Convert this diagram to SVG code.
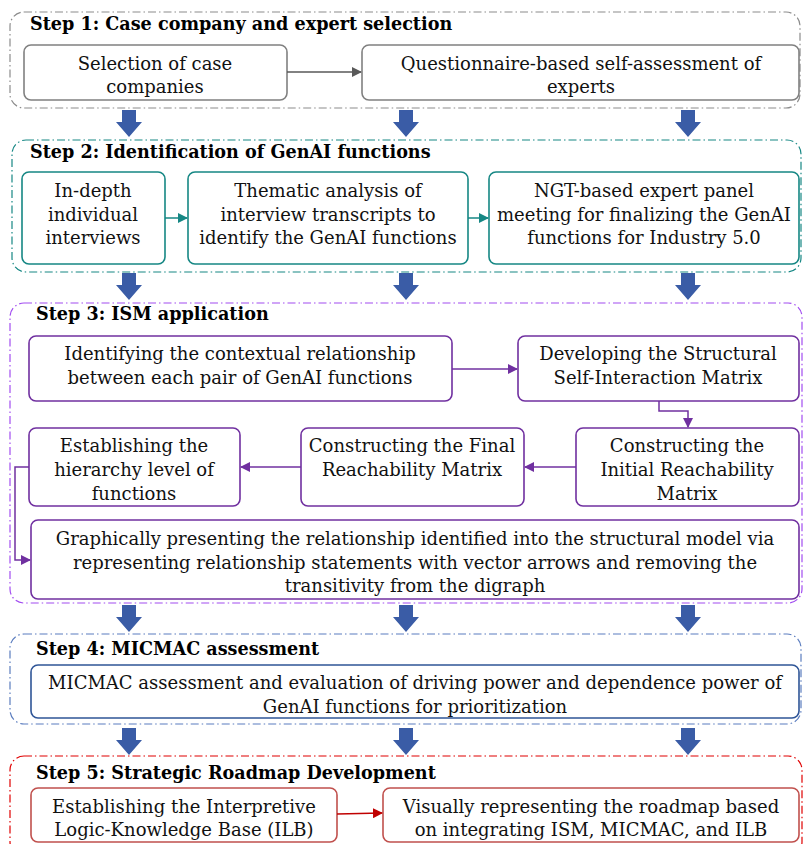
<svg xmlns="http://www.w3.org/2000/svg" width="804" height="844" viewBox="0 0 804 844">
<defs>
<style>
.t{font-family:"DejaVu Serif","Liberation Serif",serif;font-size:18px;fill:#111;text-anchor:middle}
.h{font-family:"DejaVu Serif","Liberation Serif",serif;font-size:17.6px;font-weight:bold;fill:#000}
.c{fill:none;stroke-width:1.2;stroke-dasharray:8 3 1.5 3}
.b{fill:#fff;stroke-width:1.6}
.ba{fill:#3A5CA6}
.ln{fill:none;stroke-width:1.5}
</style>
<marker id="mg" markerWidth="10" markerHeight="10" refX="9" refY="5" orient="auto" markerUnits="userSpaceOnUse"><path d="M0,0 L10,5 L0,10 z" fill="#595959"/></marker>
<marker id="mt" markerWidth="10" markerHeight="10" refX="9" refY="5" orient="auto" markerUnits="userSpaceOnUse"><path d="M0,0 L10,5 L0,10 z" fill="#168784"/></marker>
<marker id="mp" markerWidth="10" markerHeight="10" refX="9" refY="5" orient="auto" markerUnits="userSpaceOnUse"><path d="M0,0 L10,5 L0,10 z" fill="#7030A0"/></marker>
<marker id="mr" markerWidth="10" markerHeight="10" refX="9" refY="5" orient="auto" markerUnits="userSpaceOnUse"><path d="M0,0 L10,5 L0,10 z" fill="#C00000"/></marker>
<path id="blk" d="M-7,0 H7 V12 H13 L0,27 L-13,12 H-7 Z"/>
</defs>
<rect width="804" height="844" fill="#fff"/>

<!-- Step containers -->
<g id="step1">
<rect class="c" x="10" y="12" width="790" height="96" rx="14" stroke="#8C8C8C"/>
<text class="h" x="30" y="30">Step 1: Case company and expert selection</text>
</g>
<g id="step2">
<rect class="c" x="12" y="140" width="789" height="132" rx="14" stroke="#168784"/>
<text class="h" x="30" y="158">Step 2: Identification of GenAI functions</text>
</g>
<g id="step3">
<rect class="c" x="10" y="303" width="792" height="300" rx="14" stroke="#A24DF0"/>
<text class="h" x="36" y="320">Step 3: ISM application</text>
</g>
<g id="step4">
<rect class="c" x="10" y="634" width="791" height="90" rx="14" stroke="#5B7DBF"/>
<text class="h" x="36" y="655">Step 4: MICMAC assessment</text>
</g>
<g id="step5">
<rect class="c" x="10" y="756" width="792" height="100" rx="14" stroke="#E00000"/>
<text class="h" x="36" y="779">Step 5: Strategic Roadmap Development</text>
</g>

<!-- Step 1 nodes -->
<g id="n1a"><rect class="b" x="24" y="45" width="263" height="55" rx="7" stroke="#808080"/>
<text class="t" x="155" y="70">Selection of case</text><text class="t" x="155" y="93">companies</text></g>
<g id="n1b"><rect class="b" x="362" y="45" width="437" height="55" rx="7" stroke="#808080"/>
<text class="t" x="581" y="70">Questionnaire-based self-assessment of</text><text class="t" x="581" y="93">experts</text></g>

<!-- Step 2 nodes -->
<g id="n2a"><rect class="b" x="22" y="172" width="143" height="92" rx="7" stroke="#168784"/>
<text class="t" x="93" y="197">In-depth</text><text class="t" x="93" y="221">individual</text><text class="t" x="93" y="244">interviews</text></g>
<g id="n2b"><rect class="b" x="188" y="172" width="280" height="92" rx="7" stroke="#168784"/>
<text class="t" x="328" y="197">Thematic analysis of</text><text class="t" x="328" y="221">interview transcripts to</text><text class="t" x="328" y="244">identify the GenAI functions</text></g>
<g id="n2c"><rect class="b" x="489" y="172" width="310" height="92" rx="7" stroke="#168784"/>
<text class="t" x="644" y="197">NGT-based expert panel</text><text class="t" x="644" y="221">meeting for finalizing the GenAI</text><text class="t" x="644" y="244">functions for Industry 5.0</text></g>

<!-- Step 3 nodes -->
<g id="n3a"><rect class="b" x="29" y="336" width="423" height="65" rx="7" stroke="#7030A0"/>
<text class="t" x="240" y="360">Identifying the contextual relationship</text><text class="t" x="240" y="384">between each pair of GenAI functions</text></g>
<g id="n3b"><rect class="b" x="518" y="336" width="281" height="65" rx="7" stroke="#7030A0"/>
<text class="t" x="658" y="360">Developing the Structural</text><text class="t" x="658" y="384">Self-Interaction Matrix</text></g>
<g id="n3c"><rect class="b" x="576" y="428" width="223" height="78" rx="7" stroke="#7030A0"/>
<text class="t" x="687" y="452">Constructing the</text><text class="t" x="687" y="476">Initial Reachability</text><text class="t" x="687" y="500">Matrix</text></g>
<g id="n3d"><rect class="b" x="301" y="428" width="223" height="78" rx="7" stroke="#7030A0"/>
<text class="t" x="412" y="452">Constructing the Final</text><text class="t" x="412" y="476">Reachability Matrix</text></g>
<g id="n3e"><rect class="b" x="29" y="428" width="211" height="78" rx="7" stroke="#7030A0"/>
<text class="t" x="134" y="452">Establishing the</text><text class="t" x="134" y="476">hierarchy level of</text><text class="t" x="134" y="500">functions</text></g>
<g id="n3f"><rect class="b" x="31" y="520" width="768" height="79" rx="7" stroke="#7030A0"/>
<text class="t" x="415" y="545">Graphically presenting the relationship identified into the structural model via</text>
<text class="t" x="415" y="569">representing relationship statements with vector arrows and removing the</text>
<text class="t" x="415" y="592">transitivity from the digraph</text></g>

<!-- Step 4 node -->
<g id="n4a"><rect class="b" x="31" y="665" width="768" height="53" rx="7" stroke="#2F5597"/>
<text class="t" x="415" y="689">MICMAC assessment and evaluation of driving power and dependence power of</text>
<text class="t" x="415" y="713">GenAI functions for prioritization</text></g>

<!-- Step 5 nodes -->
<g id="n5a"><rect class="b" x="31" y="788" width="306" height="54" rx="7" stroke="#C0504D"/>
<text class="t" x="184" y="813">Establishing the Interpretive</text><text class="t" x="184" y="836">Logic-Knowledge Base (ILB)</text></g>
<g id="n5b"><rect class="b" x="383" y="788" width="416" height="54" rx="7" stroke="#C0504D"/>
<text class="t" x="591" y="813">Visually representing the roadmap based</text><text class="t" x="591" y="836">on integrating ISM, MICMAC, and ILB</text></g>

<!-- Connectors -->
<g id="connectors">
<line class="ln" x1="287" y1="72" x2="361" y2="72" stroke="#595959" marker-end="url(#mg)"/>
<line class="ln" x1="165" y1="218" x2="187" y2="218" stroke="#168784" marker-end="url(#mt)"/>
<line class="ln" x1="468" y1="218" x2="488" y2="218" stroke="#168784" marker-end="url(#mt)"/>
<line class="ln" x1="452" y1="369" x2="517" y2="369" stroke="#7030A0" marker-end="url(#mp)"/>
<polyline class="ln" points="659,401 659,411 688,411 688,427" stroke="#7030A0" marker-end="url(#mp)"/>
<line class="ln" x1="576" y1="467" x2="525" y2="467" stroke="#7030A0" marker-end="url(#mp)"/>
<line class="ln" x1="301" y1="467" x2="241" y2="467" stroke="#7030A0" marker-end="url(#mp)"/>
<polyline class="ln" points="29,467 15,467 15,560 30,560" stroke="#7030A0" marker-end="url(#mp)"/>
<line class="ln" x1="337" y1="814" x2="382" y2="813" stroke="#C00000" marker-end="url(#mr)"/>
<g class="ba">
<use href="#blk" x="129" y="110"/><use href="#blk" x="406" y="110"/><use href="#blk" x="688" y="110"/>
<use href="#blk" x="129" y="273"/><use href="#blk" x="406" y="273"/><use href="#blk" x="688" y="273"/>
<use href="#blk" x="129" y="605"/><use href="#blk" x="406" y="605"/><use href="#blk" x="688" y="605"/>
<use href="#blk" x="129" y="728"/><use href="#blk" x="406" y="728"/><use href="#blk" x="688" y="728"/>
</g>
</g>
</svg>
